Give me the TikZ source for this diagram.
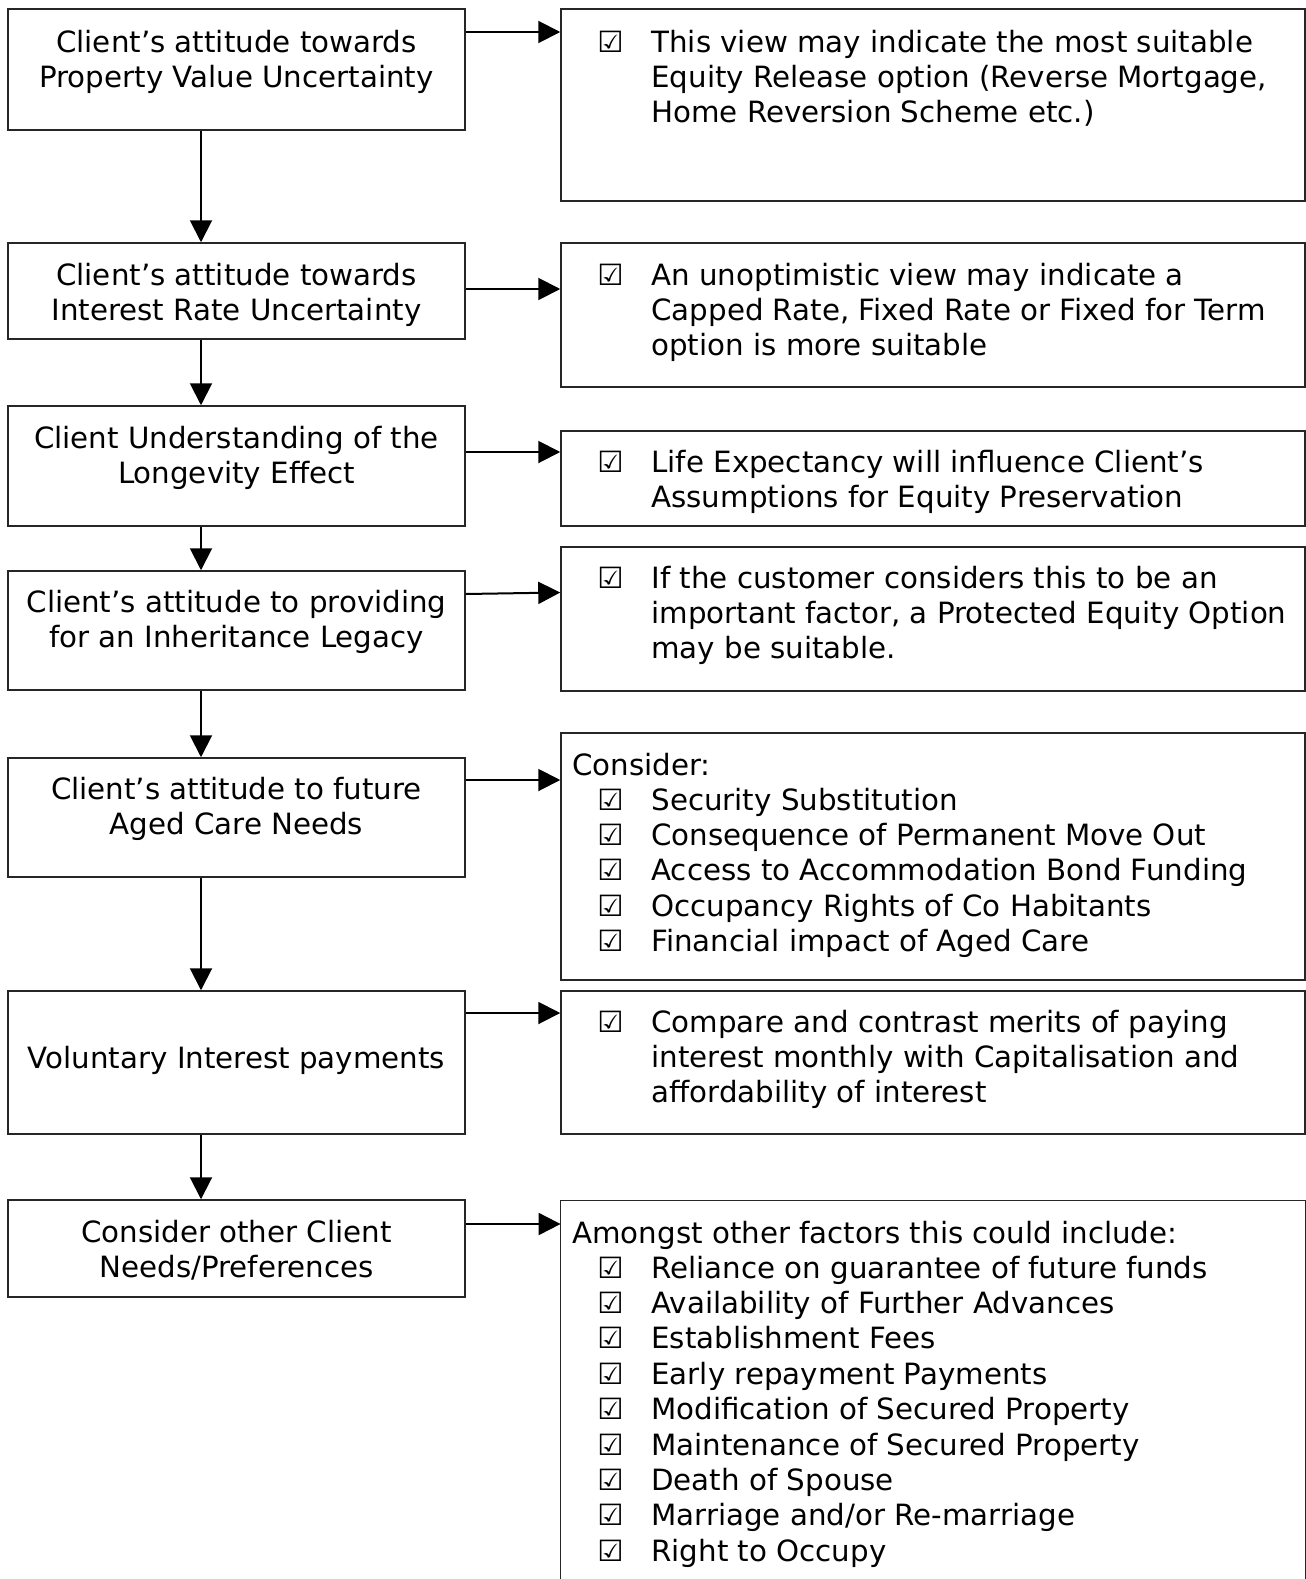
\documentclass[tikz,border=0pt]{standalone}
\usepackage{fontspec}
\setmainfont{DejaVu Sans}
\usetikzlibrary{arrows.meta,fit}
\newcommand\centerlines[1]{\vtop{\baselineskip=17.7pt\lineskiplimit=-20pt\halign{\hfil##\hfil\cr#1\crcr}}}
\newcommand\leftlines[1]{\vtop{\baselineskip=17.7pt\lineskiplimit=-20pt\halign{##\hfil\cr#1\crcr}}}
\newcommand\chk{\textbf{☑}}
\begin{document}
\begin{tikzpicture}[x=0.5pt,y=-0.5pt,
  box/.style={draw=black!85, line width=0.75pt, inner sep=0pt},
  openbox/.style={inner sep=0pt},
  arr/.style={line width=1pt, -{Triangle[length=11pt,width=11pt]}},
  txt/.style={inner sep=0pt, font=\fontsize{14.65pt}{17.7pt}\selectfont},
  ctxt/.style={txt, anchor=base},
  ltxt/.style={txt, anchor=base west}]
\useasboundingbox (0,0) rectangle (1306,1579);

% left boxes
\node[box, fit={(8,9) (465,130)}] (L1) {};
\node[box, fit={(8,243) (465,339)}] (L2) {};
\node[box, fit={(8,406) (465,526)}] (L3) {};
\node[box, fit={(8,571) (465,690)}] (L4) {};
\node[box, fit={(8,758) (465,877)}] (L5) {};
\node[box, fit={(8,991) (465,1134)}] (L6) {};
\node[box, fit={(8,1200) (465,1297)}] (L7) {};

% right boxes
\node[box, fit={(561,9) (1305,201)}] (R1) {};
\node[box, fit={(561,243) (1305,387)}] (R2) {};
\node[box, fit={(561,431) (1305,526)}] (R3) {};
\node[box, fit={(561,547) (1305,691)}] (R4) {};
\node[box, fit={(561,733) (1305,980)}] (R5) {};
\node[box, fit={(561,991) (1305,1134)}] (R6) {};
\node[openbox, fit={(561,1201) (1305,1620)}] (R7) {};
\draw[draw=black!85, line width=0.75pt] (R7.south west) -- (R7.north west) -- (R7.north east) -- (R7.south east);

% left texts
\node[ctxt] (tL1) at (236.5,52) {\centerlines{Client’s attitude towards\cr Property Value Uncertainty}};
\node[ctxt] (tL2) at (236.5,285) {\centerlines{Client’s attitude towards\cr Interest Rate Uncertainty}};
\node[ctxt] (tL3) at (236.5,448) {\centerlines{Client Understanding of the\cr Longevity Effect}};
\node[ctxt] (tL4) at (236.5,612) {\centerlines{Client’s attitude to providing\cr for an Inheritance Legacy}};
\node[ctxt] (tL5) at (236.5,799) {\centerlines{Client’s attitude to future\cr Aged Care Needs}};
\node[ctxt] (tL6) at (236.5,1068) {Voluntary Interest payments};
\node[ctxt] (tL7) at (236.5,1242) {\centerlines{Consider other Client\cr Needs/Preferences}};

% right texts
\node[ltxt] (c1) at (597,52) {\chk};
\node[ltxt] (tR1) at (651,52) {\leftlines{This view may indicate the most suitable\cr Equity Release option (Reverse Mortgage,\cr Home Reversion Scheme etc.)}};
\node[ltxt] (c2) at (597,285) {\chk};
\node[ltxt] (tR2) at (651,285) {\leftlines{An unoptimistic view may indicate a\cr Capped Rate, Fixed Rate or Fixed for Term\cr option is more suitable}};
\node[ltxt] (c3) at (597,472) {\chk};
\node[ltxt] (tR3) at (651,472) {\leftlines{Life Expectancy will influence Client’s\cr Assumptions for Equity Preservation}};
\node[ltxt] (c4) at (597,588) {\chk};
\node[ltxt] (tR4) at (651,588) {\leftlines{If the customer considers this to be an\cr important factor, a Protected Equity Option\cr may be suitable.}};
\node[ltxt] (h5) at (572,775) {Consider:};
\node[ltxt] (c5) at (597,810) {\leftlines{\chk\cr\chk\cr\chk\cr\chk\cr\chk}};
\node[ltxt] (tR5) at (651,810) {\leftlines{Security Substitution\cr Consequence of Permanent Move Out\cr Access to Accommodation Bond Funding\cr Occupancy Rights of Co Habitants\cr Financial impact of Aged Care}};
\node[ltxt] (c6) at (597,1032) {\chk};
\node[ltxt] (tR6) at (651,1032) {\leftlines{Compare and contrast merits of paying\cr interest monthly with Capitalisation and\cr affordability of interest}};
\node[ltxt] (h7) at (572,1243) {Amongst other factors this could include:};
\node[ltxt] (c7) at (597,1278) {\leftlines{\chk\cr\chk\cr\chk\cr\chk\cr\chk\cr\chk\cr\chk\cr\chk\cr\chk}};
\node[ltxt] (tR7) at (651,1278) {\leftlines{Reliance on guarantee of future funds\cr Availability of Further Advances\cr Establishment Fees\cr Early repayment Payments\cr Modification of Secured Property\cr Maintenance of Secured Property\cr Death of Spouse\cr Marriage and/or Re-marriage\cr Right to Occupy}};

% vertical connectors
\coordinate (ax) at (201,0);
\draw[arr] (L1.south -| ax) -- (L2.north -| ax);
\draw[arr] (L2.south -| ax) -- (L3.north -| ax);
\draw[arr] (L3.south -| ax) -- (L4.north -| ax);
\draw[arr] (L4.south -| ax) -- (L5.north -| ax);
\draw[arr] (L5.south -| ax) -- (L6.north -| ax);
\draw[arr] (L6.south -| ax) -- (L7.north -| ax);

% horizontal connectors
\draw[arr] (L1.east |- 0,32) -- (R1.west |- 0,32);
\draw[arr] (L2.east |- 0,289) -- (R2.west |- 0,289);
\draw[arr] (L3.east |- 0,452) -- (R3.west |- 0,452);
\draw[arr] (L4.east |- 0,594) -- (R4.west |- 0,592.5);
\draw[arr] (L5.east |- 0,780) -- (R5.west |- 0,780);
\draw[arr] (L6.east |- 0,1013) -- (R6.west |- 0,1013);
\draw[arr] (L7.east |- 0,1224) -- (R7.west |- 0,1224);
\end{tikzpicture}
\end{document}
